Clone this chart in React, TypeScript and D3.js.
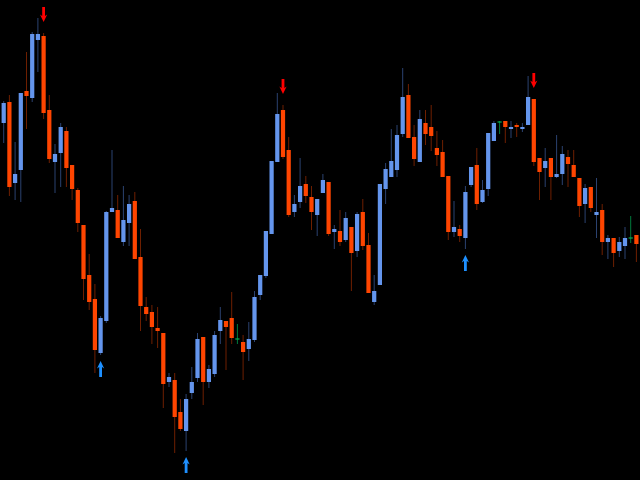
import React from "react";
import * as d3 from "d3";

// Price series (arbitrary price units)
const opens = [357,378,297,310,389,382,440,444,370,318,327,349,315,290,255,205,181,127,159,268,270,238,257,279,223,173,168,152,147,98,100,68,49,87,102,143,98,106,149,159,162,141,138,131,140,185,204,246,318,370,330,268,278,296,283,265,287,298,248,249,240,253,229,268,235,178,195,291,303,310,346,385,343,318,357,353,332,328,304,248,251,242,295,315,278,291,339,358,359,351,355,351,355,381,322,312,322,303,306,323,315,302,276,293,265,270,238,242,229,234,242,245];
const highs = [379,385,338,387,428,448,462,447,385,336,357,353,315,292,255,226,196,164,269,330,285,294,285,288,251,183,175,173,147,107,107,81,86,113,147,143,115,149,173,159,188,156,145,158,189,205,249,319,387,375,343,285,322,304,294,281,306,298,255,270,268,253,268,281,247,205,296,317,351,355,412,396,355,370,370,375,349,340,304,279,255,294,313,332,300,347,359,359,359,359,357,357,404,381,322,332,322,345,334,330,330,302,296,293,302,276,245,242,243,253,264,245];
const lows = [337,284,280,278,351,378,408,361,317,287,293,293,280,248,180,170,107,125,157,268,242,234,234,221,149,159,136,132,72,93,27,49,29,81,98,75,92,103,136,110,136,136,100,119,138,180,202,246,318,321,263,263,272,277,250,244,287,244,231,234,238,189,223,230,187,175,195,276,303,303,343,342,314,318,335,329,314,303,240,243,238,231,293,270,277,284,339,346,337,342,343,348,355,314,280,293,280,302,295,293,303,263,257,268,242,225,221,213,223,221,237,218];
const closes = [377,293,306,387,384,446,446,367,321,326,353,312,291,257,201,178,130,162,268,272,242,260,276,221,174,166,153,149,96,103,63,51,81,98,141,98,111,145,160,153,142,141,128,141,183,205,249,319,366,323,265,276,294,284,268,281,300,246,251,238,262,227,266,234,187,189,296,311,319,345,383,342,321,361,346,344,325,303,248,253,244,288,313,276,290,347,357,358,353,353,353,353,383,318,308,319,303,306,326,316,303,274,292,272,268,238,242,227,238,242,242,236];

// Signal arrows: candle index and direction
const sellSignals = [7, 49, 93];
const buySignals = [17, 32, 81];

const W = 640;
const H = 480;

const UP = "#6495ED";
const DOWN = "#FF4500";
const UP_WICK = "#2b4270";
const DOWN_WICK = "#6e1f00";
const DOJI = "#00b050";
const DOJI_WICK = "#007a3c";
const SELL = "#ff0000";
const BUY = "#1e90ff";

export default function App() {
  const idx = d3.range(opens.length);
  const x = d3
    .scaleBand<number>()
    .domain(idx)
    .range([0.85, 639.25])
    .paddingInner(0.26)
    .paddingOuter(0.13);
  const y = d3.scaleLinear().domain([0, 480]).range([H, 0]);
  const bw = x.bandwidth();

  // arrow shapes (tip at origin)
  const upArrow = "M0,0 L3.6,7.5 L1.4,6 L1.4,16 L-1.4,16 L-1.4,6 L-3.6,7.5 Z";
  const downArrow = "M0,0 L3.6,-7.5 L1.4,-6 L1.4,-15 L-1.4,-15 L-1.4,-6 L-3.6,-7.5 Z";

  return (
    <svg
      width={W}
      height={H}
      style={{ position: "absolute", left: 0, top: 0, display: "block", background: "#000" }}
    >
      <rect x={0} y={0} width={W} height={H} fill="#000" />
      {idx.map((i) => {
        const o = opens[i];
        const c = closes[i];
        const cx = (x(i) as number) + bw / 2;
        const doji = o === c;
        const up = c > o;
        const wick = doji ? DOJI_WICK : up ? UP_WICK : DOWN_WICK;
        const body = doji ? DOJI : up ? UP : DOWN;
        const top = y(Math.max(o, c));
        const bot = y(Math.min(o, c));
        return (
          <g key={i}>
            <line x1={cx} x2={cx} y1={y(highs[i])} y2={y(lows[i])} stroke={wick} strokeWidth={1} />
            {doji ? (
              <line x1={x(i) as number} x2={(x(i) as number) + bw} y1={top} y2={top} stroke={body} strokeWidth={1.2} />
            ) : (
              <rect x={x(i) as number} y={top} width={bw} height={Math.max(1, bot - top)} fill={body} />
            )}
          </g>
        );
      })}
      {sellSignals.map((i) => {
        const cx = (x(i) as number) + bw / 2;
        return (
          <path key={"s" + i} d={downArrow} fill={SELL} transform={`translate(${cx},${y(highs[i]) - 11})`} />
        );
      })}
      {buySignals.map((i) => {
        const cx = (x(i) as number) + bw / 2;
        return (
          <path key={"b" + i} d={upArrow} fill={BUY} transform={`translate(${cx},${y(lows[i]) + 6})`} />
        );
      })}
    </svg>
  );
}
